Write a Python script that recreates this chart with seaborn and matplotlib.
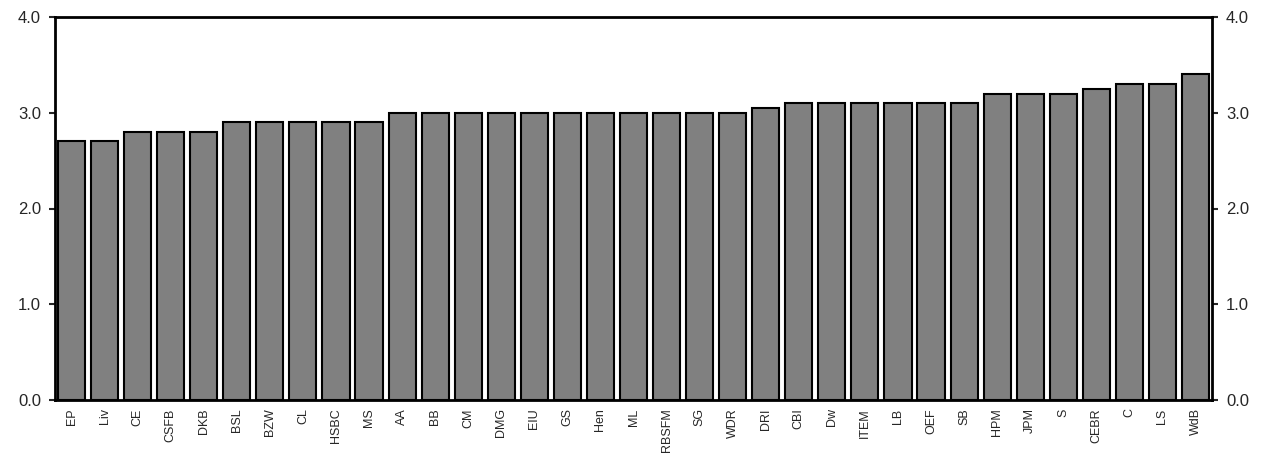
import matplotlib
matplotlib.use("Agg")
import matplotlib.pyplot as plt
import seaborn as sns
import numpy as np
import pandas as pd

categories = ["EP","Liv","CE","CSFB","DKB","BSL","BZW","CL","HSBC","MS","AA","BB","CM","DMG","EIU","GS","Hen","ML","RBSFM","SG","WDR","DRI","CBI","Dw","ITEM","LB","OEF","SB","HPM","JPM","S","CEBR","C","LS","WdB"]
values = [2.7,2.7,2.8,2.8,2.8,2.9,2.9,2.9,2.9,2.9,3.0,3.0,3.0,3.0,3.0,3.0,3.0,3.0,3.0,3.0,3.0,3.05,3.1,3.1,3.1,3.1,3.1,3.1,3.2,3.2,3.2,3.25,3.3,3.3,3.4]
yticks = [0.0,1.0,2.0,3.0,4.0]

sns.set_style("white")
plt.rcParams['font.family'] = ['Liberation Sans', 'DejaVu Sans']
fig = plt.figure(figsize=(12.74,4.59), dpi=100)
ax = fig.add_axes([55/1274, 59/459, 1157/1274, 383/459])
df = pd.DataFrame({"cat": categories, "val": values})
sns.barplot(data=df, x="cat", y="val", color="#808080", saturation=1, width=0.82,
            edgecolor="black", linewidth=1.5, ax=ax)
ax.set_ylim(0,4)
ax.set_xlim(-0.5, len(categories)-0.5)
ax.set_yticks(yticks)
ax.set_yticklabels([f"{t:.1f}" for t in yticks], fontsize=12)
ax.tick_params(axis='y', direction='out', length=4, width=1.5, right=True, labelright=True, left=True, pad=6)
ax.set_xticks(range(len(categories)))
ax.set_xticklabels(categories, rotation=90, fontsize=9)
ax.tick_params(axis='x', length=0, pad=6)
ax.set_xticks(np.arange(-0.5, len(categories)), minor=True)
ax.tick_params(axis='x', which='minor', direction='out', length=4, width=1.5)
for s in ax.spines.values():
    s.set_linewidth(2); s.set_color("black")
ax.set_xlabel(""); ax.set_ylabel("")
fig.savefig("out.png", dpi=100)
